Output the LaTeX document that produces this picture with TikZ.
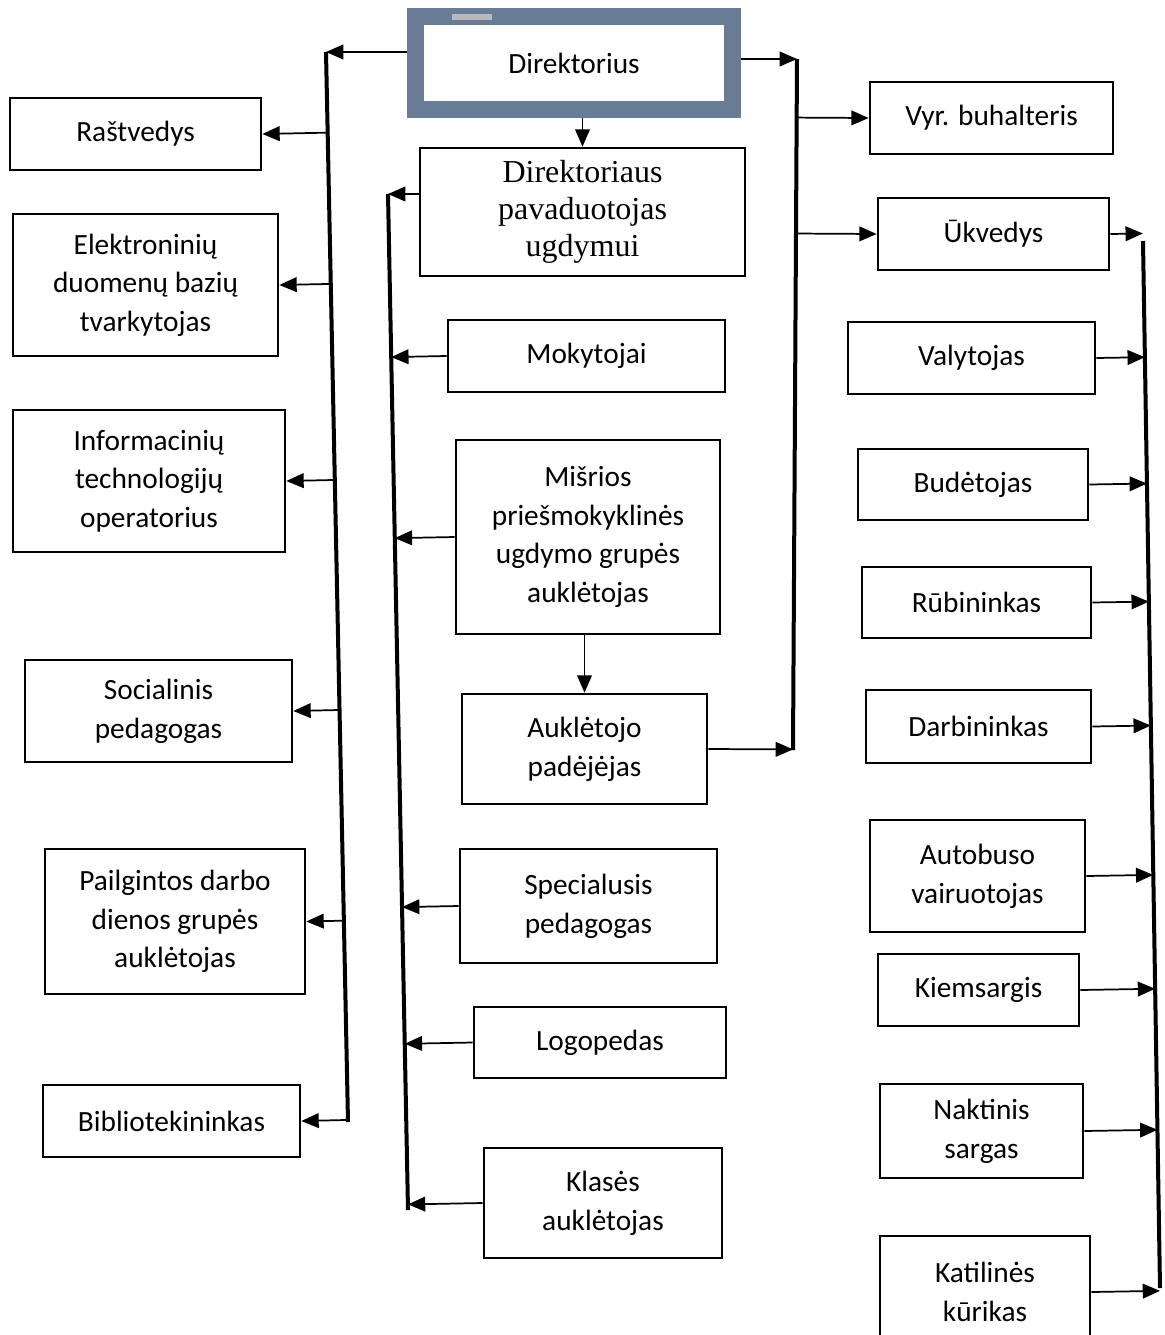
\documentclass[tikz,border=0pt]{standalone}
\usepackage{fontspec}
\setmainfont{Carlito}
\newfontfamily\timesfont{Liberation Serif}
\usetikzlibrary{arrows.meta,calc}
\definecolor{framegray}{RGB}{104,124,150}

\begin{document}
\begin{tikzpicture}[x=0.75pt, y=-0.75pt,
  >={Triangle[length=13pt,width=11pt]},
  box/.style={draw, line width=2pt, align=center, inner sep=0pt,
    font=\fontsize{22}{29}\selectfont},
  bus/.style={line width=3pt},
  link/.style={->, line width=1.3pt}]
\useasboundingbox (0,0) rectangle (1164,1335);

% centre column
\node[box, draw=framegray, line width=12.75pt, minimum width=237.75pt, minimum height=69.75pt] (dir) at (574,63) {Direktorius};
\fill[gray!55] (452,14) rectangle (492,20);
\node[box, minimum width=243.75pt, minimum height=96pt, font=\timesfont\fontsize{24}{27.75}\selectfont] (pav) at (582.5,212) {Direktoriaus\\pavaduotojas\\ugdymui};
\node[box, minimum width=207.75pt, minimum height=54pt] (mok) at (586.5,356) {Mokytojai};
\node[box, minimum width=198pt, minimum height=145.5pt] (mis) at (588,537) {Mišrios\\priešmokyklinės\\ugdymo grupės\\auklėtojas};
\node[box, minimum width=183.75pt, minimum height=82.5pt] (aukp) at (584.5,749) {Auklėtojo\\padėjėjas};
\node[box, minimum width=192.75pt, minimum height=85.5pt] (spec) at (588.5,906) {Specialusis\\pedagogas};
\node[box, minimum width=189pt, minimum height=53.25pt] (logo) at (600,1042.5) {Logopedas};
\node[box, minimum width=178.5pt, minimum height=82.5pt] (klas) at (603,1203) {Klasės\\auklėtojas};

% left column
\node[box, minimum width=188.25pt, minimum height=54pt] (rast) at (135.5,134) {Raštvedys};
\node[box, minimum width=198.75pt, minimum height=106.5pt] (elek) at (145.5,285) {Elektroninių\\duomenų bazių\\tvarkytojas};
\node[box, minimum width=204pt, minimum height=106.5pt] (info) at (149,481) {Informacinių\\technologijų\\operatorius};
\node[box, minimum width=200.25pt, minimum height=76.5pt] (soc) at (158.5,711) {Socialinis\\pedagogas};
\node[box, minimum width=195pt, minimum height=108.75pt] (pail) at (175,921.5) {Pailgintos darbo\\dienos grupės\\auklėtojas};
\node[box, minimum width=192.75pt, minimum height=54pt] (bibl) at (171.5,1121) {Bibliotekininkas};

% right column
\node[box, minimum width=182.25pt, minimum height=54pt] (vyr) at (991.5,118) {Vyr. buhalteris};
\node[box, minimum width=173.25pt, minimum height=54pt] (ukv) at (993.5,234) {Ūkvedys};
\node[box, minimum width=185.25pt, minimum height=54pt] (valy) at (971.5,358) {Valytojas};
\node[box, minimum width=172.5pt, minimum height=53.25pt] (bud) at (973,484.5) {Budėtojas};
\node[box, minimum width=171.75pt, minimum height=53.25pt] (rub) at (976.5,602.5) {Rūbininkas};
\node[box, minimum width=168.75pt, minimum height=54.75pt] (darb) at (978.5,726.5) {Darbininkas};
\node[box, minimum width=161.25pt, minimum height=84pt] (auto) at (977.5,876) {Autobuso\\vairuotojas};
\node[box, minimum width=150.75pt, minimum height=54pt] (kiem) at (978.5,990) {Kiemsargis};
\node[box, minimum width=152.25pt, minimum height=70.5pt] (nakt) at (981.5,1131) {Naktinis\\sargas};
\node[box, minimum width=157.5pt, minimum height=84pt] (kat) at (985,1292) {Katilinės\\kūrikas};

% buses
\coordinate (lt) at (326,52);
\coordinate (lb) at (348,1122);
\coordinate (it) at (388,194);
\coordinate (ib) at (408,1210);
\coordinate (rt) at (797,59);
\coordinate (rb) at (793,750);
\coordinate (st) at (1143,241);
\coordinate (sb) at (1160,1288);
\draw[bus] (lt) -- (lb);
\draw[bus] (it) -- (ib);
\draw[bus] (rt) -- (rb);
\draw[bus] (st) -- (sb);

% director links
\draw[link] (dir.west |- lt) -- (lt);
\draw[link] (dir.east |- rt) -- (rt);
\draw[link] (dir.south -| pav.north) -- (pav.north);
\draw[link] (mis.south -| aukp.north) -- (aukp.north);
\draw[link] (pav.west |- it) -- (it);

% left links
\foreach \n in {rast,elek,info,soc,pail,bibl}
  \draw[link] ($(lt)!(\n.east)!(lb)$) -- (\n.east);

% inner links
\foreach \n in {mok,mis,spec,logo,klas}
  \draw[link] (\n.west) -- ($(it)!(\n.west)!(ib)$);

% right links
\draw[link] (aukp.east) -- ($(rt)!(aukp.east)!(rb)$);
\draw[link] ($(rt)!(vyr.west)!(rb)$) -- (vyr.west);
\draw[link] ($(rt)!(ukv.west)!(rb)$) -- (ukv.west);
\foreach \n in {ukv,valy,bud,rub,darb,auto,kiem,nakt,kat}
  \draw[link] (\n.east) -- ($(st)!(\n.east)!(sb)$);
\end{tikzpicture}
\end{document}
